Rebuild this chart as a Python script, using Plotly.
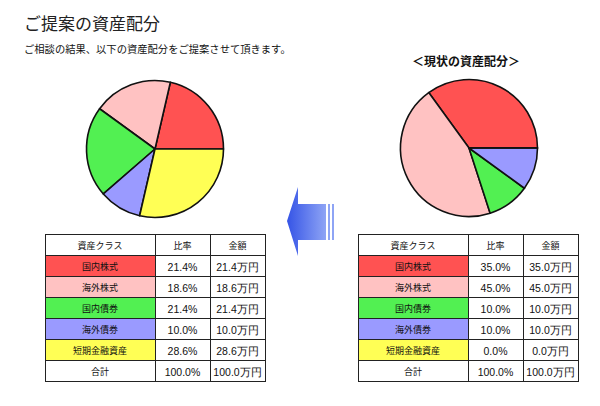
import plotly.graph_objects as go

# ---- data ----
classes = ["国内株式", "海外株式", "国内債券", "海外債券", "短期金融資産"]
colors = ["#FF5252", "#FFC2C2", "#52F052", "#9A9AFF", "#FFFF55"]
proposed = [21.4, 18.6, 21.4, 10.0, 28.6]
current = [35.0, 45.0, 10.0, 10.0, 0.0]
header = ["資産クラス", "比率", "金額"]
total_label = "合計"

# page body has an 8px default margin: work in screen pixels and shift
OFF = 8
W, H = 592, 398
JP = "Noto Sans CJK JP"
NUM = "Liberation Sans"

fig = go.Figure()

def px_x(a, b):
    return [(a - OFF) / W, (b - OFF) / W]

def px_y(top, bottom):
    return [1 - (bottom - OFF) / H, 1 - (top - OFF) / H]

def add_pie(vals, cx, cy, r):
    # first slice starts at 3 o'clock and runs counterclockwise
    rot = 90 - vals[0] / sum(vals) * 360
    fig.add_trace(go.Pie(
        values=vals, labels=classes, sort=False,
        direction="counterclockwise", rotation=rot,
        marker=dict(colors=colors, line=dict(color="#111111", width=1.6)),
        textinfo="none", hoverinfo="skip", showlegend=False,
        domain=dict(x=px_x(cx - r, cx + r), y=px_y(cy - r, cy + r)),
    ))

add_pie(proposed, 155, 149, 68.5)
add_pie(current, 469, 148, 68.5)

def add_table(vals, x0, x1, widths, top):
    rate = [f"{v:.1f}%" for v in vals] + [f"{sum(vals):.1f}%"]
    amt = [f"{v:.1f}万円" for v in vals] + [f"{sum(vals):.1f}万円"]
    names = classes + [total_label]
    fills = [colors + ["white"], ["white"] * 6, ["white"] * 6]
    fig.add_trace(go.Table(
        columnwidth=widths,
        domain=dict(x=px_x(x0, x1), y=[0, 1 - (top - OFF) / H]),
        header=dict(values=header, fill_color="white", height=21,
                    line=dict(color="#222222", width=1), align="center",
                    font=dict(family=JP, size=9, color="#111111")),
        cells=dict(values=[names, rate, amt], fill_color=fills, height=21,
                   line=dict(color="#222222", width=1), align="center",
                   font=dict(family=[JP, NUM, NUM], size=[9, 10.5, 10.5],
                             color="#111111")),
    ))

add_table(proposed, 45, 265, [110, 55, 55], 234)
add_table(current, 358, 579, [110, 55, 55], 234)

# ---- decorative arrow (screen-pixel hidden axes) ----
ax = [287, 298, 298, 326, 326, 298, 298, 287]
ay = [221, 187, 204, 204, 240, 240, 256, 221]
fig.add_trace(go.Scatter(
    x=ax, y=ay, mode="lines", fill="toself", line=dict(width=0),
    fillgradient=dict(type="horizontal",
                      colorscale=[[0, "#3554e6"], [1, "#8ea4f5"]]),
    hoverinfo="skip", showlegend=False,
))
for sx in (328, 332):
    fig.add_shape(type="rect", x0=sx, x1=sx + 2, y0=204, y1=240,
                  xref="x", yref="y", line=dict(width=0), fillcolor="#8ea4f5")

fig.update_xaxes(range=[OFF, OFF + W], visible=False, fixedrange=True)
fig.update_yaxes(range=[OFF + H, OFF], visible=False, fixedrange=True)

# ---- text ----
def pt(x, y):
    return (x - OFF) / W, 1 - (y - OFF) / H

tx, ty = pt(22, 22)
fig.add_annotation(text="ご提案の資産配分", x=tx, y=ty, xref="paper", yref="paper",
                   xanchor="left", yanchor="middle", showarrow=False,
                   font=dict(family=JP, size=17, color="#222222"))
tx, ty = pt(22, 48)
fig.add_annotation(text="ご相談の結果、以下の資産配分をご提案させて頂きます。",
                   x=tx, y=ty, xref="paper", yref="paper",
                   xanchor="left", yanchor="middle", showarrow=False,
                   font=dict(family=JP, size=10.3, color="#111111"))
tx, ty = pt(466, 61)
fig.add_annotation(text="<b>＜現状の資産配分＞</b>", x=tx, y=ty,
                   xref="paper", yref="paper", xanchor="center", yanchor="middle",
                   showarrow=False, font=dict(family=JP, size=12, color="#111111"))

fig.update_layout(width=W, height=H, margin=dict(l=0, r=0, t=0, b=0),
                  paper_bgcolor="white", plot_bgcolor="white")

fig.write_html("out.html")
